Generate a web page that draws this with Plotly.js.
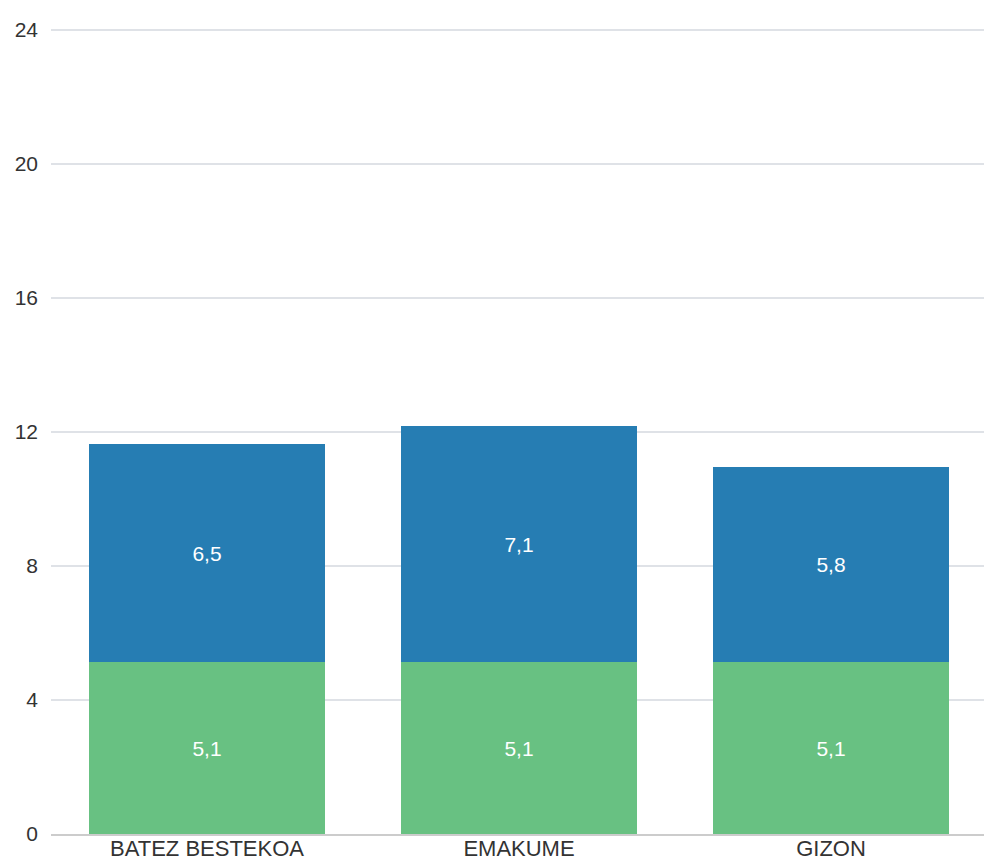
<!DOCTYPE html>
<html>
<head>
<meta charset="utf-8">
<script src="https://cdn.plot.ly/plotly-3.0.1.min.js"></script>
<style>
  html, body { margin: 0; padding: 0; background: #fff; overflow: hidden; }
  #chart { width: 987px; height: 864px; }
</style>
</head>
<body>
<div id="chart"></div>
<script>
const categories = ["BATEZ BESTEKOA", "EMAKUME", "GIZON"];
const greenValues = [5.13, 5.13, 5.13];
const greenLabels = ["5,1", "5,1", "5,1"];
const blueValues = [6.51, 7.05, 5.84];
const blueLabels = ["6,5", "7,1", "5,8"];
const yTicks = [0, 4, 8, 12, 16, 20, 24];

const labelFont = { family: "Liberation Sans, Arial, sans-serif", size: 21, color: "#ffffff" };

const traces = [
  {
    type: "bar", x: categories, y: greenValues, text: greenLabels,
    texttemplate: "%{text}", textposition: "inside", insidetextanchor: "middle",
    textfont: labelFont, marker: { color: "#68c182" }, hoverinfo: "skip"
  },
  {
    type: "bar", x: categories, y: blueValues, text: blueLabels,
    texttemplate: "%{text}", textposition: "inside", insidetextanchor: "middle",
    textfont: labelFont, marker: { color: "#267db3" }, hoverinfo: "skip"
  }
];

const layout = {
  width: 987, height: 864,
  margin: { l: 51, r: 0, t: 20, b: 30 },
  paper_bgcolor: "#ffffff", plot_bgcolor: "#ffffff",
  barmode: "stack", bargap: 0.245,
  showlegend: false,
  font: { family: "Liberation Sans, Arial, sans-serif", size: 22, color: "#333333" },
  xaxis: {
    showgrid: false, showline: true, linecolor: "#cccccc", linewidth: 1.5,
    ticks: "", ticklabelstandoff: -6,
    tickfont: { size: 22, color: "#333333" }, fixedrange: true
  },
  yaxis: {
    range: [0, 24.3], tickvals: yTicks, ticktext: yTicks.map(String),
    showgrid: true, gridcolor: "#dfe2e7", gridwidth: 1.5,
    zeroline: false, showline: false,
    ticks: "", ticklabelstandoff: 12,
    tickfont: { size: 21, color: "#333333" }, fixedrange: true
  }
};

Plotly.newPlot("chart", traces, layout, { staticPlot: true, displayModeBar: false });
</script>
</body>
</html>
